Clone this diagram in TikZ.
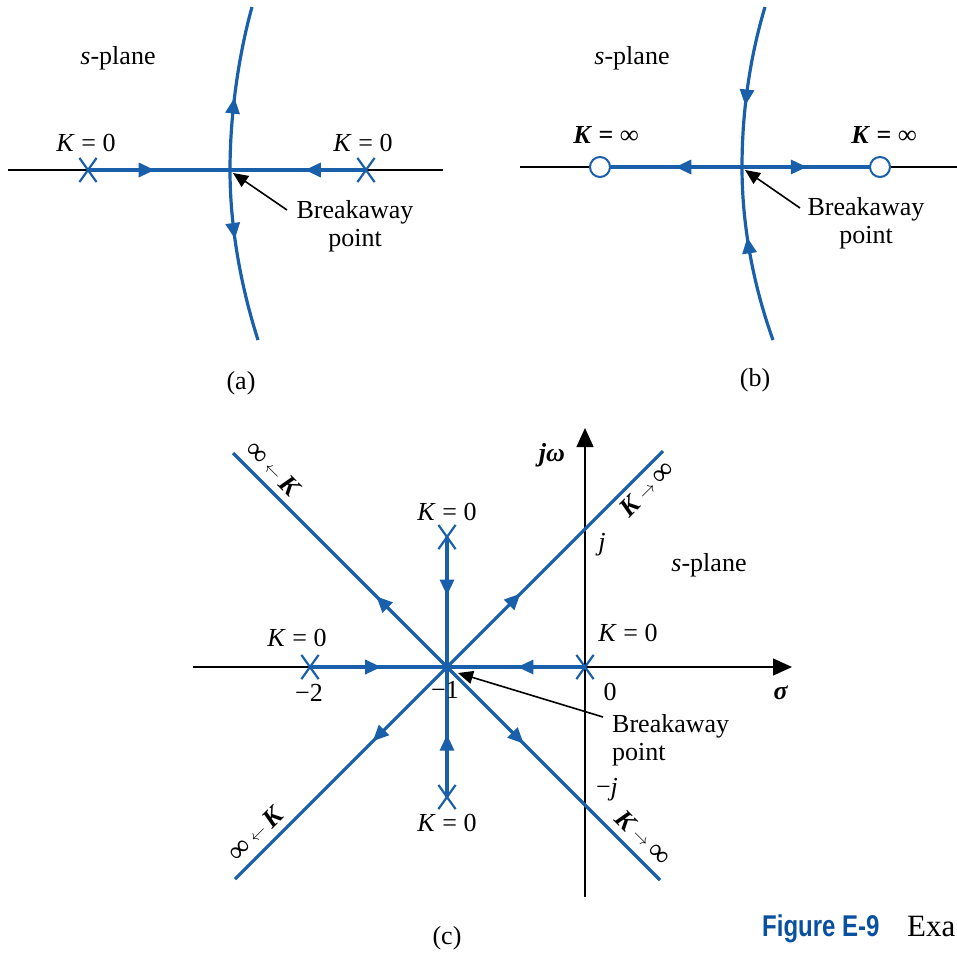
\documentclass[tikz,border=0pt]{standalone}
\usepackage{fontspec}
\setmainfont{Liberation Serif}
\newfontfamily\figsans{Liberation Sans}
\usetikzlibrary{arrows.meta,decorations.markings,shapes.misc}
\definecolor{locus}{RGB}{25,95,170}
\definecolor{figblue}{RGB}{10,80,160}
\tikzset{
  locusline/.style={draw=locus, line width=3.2pt},
  axisline/.style={draw=black, line width=1.3pt},
  bigaxis/.style={draw=black, line width=1.3pt, -{Triangle[length=19pt,width=17pt]}},
  pole/.style={cross out, draw=locus, line width=2.2pt, minimum width=15pt, minimum height=22pt, inner sep=0pt},
  zeromark/.style={circle, draw=locus, fill=white, line width=2pt, minimum size=20pt, inner sep=0pt},
  lbl/.style={font=\fontsize{26}{28}\selectfont, inner sep=0pt},
  captext/.style={font=\fontsize{26}{28}\selectfont, inner sep=0pt},
  midarrow/.style={postaction={decorate}, decoration={markings, mark=at position #1 with {\arrow[locus]{Triangle[length=16pt,width=14pt]}}}},
  ptr/.style={draw=black, line width=1.6pt, -{Triangle[length=15pt,width=13pt]}},
}
\newcommand{\Kinf}{\textbf{\textit{K}}\,{\fontsize{17}{17}\selectfont\raisebox{2pt}{$\rightarrow$}}\,{\fontsize{30}{30}\selectfont ∞}}
\newcommand{\infK}{{\fontsize{30}{30}\selectfont ∞}\,{\fontsize{17}{17}\selectfont\raisebox{2pt}{$\leftarrow$}}\,\textbf{\textit{K}}}
\begin{document}
\begin{tikzpicture}[x=1pt,y=-1pt]
\useasboundingbox (0,0) rectangle (957,954);
% ---------------- panel (a)
\coordinate (axaL) at (8,170);
\coordinate (axaR) at (443,170);
\coordinate (Ba) at (230,170);
\coordinate (Ta) at (252,7);
\coordinate (Ua) at (258,340);
\draw[axisline] (axaL) -- (axaR);
\node[pole] (pa1) at (88,170) {};
\node[pole] (pa2) at (366,170) {};
\draw[locusline, midarrow=0.47] (pa1.center) -- (Ba);
\draw[locusline, midarrow=0.45] (pa2.center) -- (Ba);
\draw[locusline, midarrow=0.44] (Ba) .. controls (230,110) and (240,50) .. (Ta);
\draw[locusline, midarrow=0.40] (Ba) .. controls (230,230) and (242,290) .. (Ua);
\node[lbl] (ka1) at (86,143) {\textit{K} = 0};
\node[lbl] (ka2) at (363,143) {\textit{K} = 0};
\node[lbl] (spa) at (118,58) {\textit{s}-plane};
\node[lbl, align=center] (bka) at (355,226) {Breakaway\\point};
\coordinate (ta) at (287,210);
\coordinate (tipa) at (233,173);
\draw[ptr] (ta) -- (tipa);
\node[captext] (capa) at (241,383) {(a)};
% ---------------- panel (b)
\coordinate (axbL) at (520,167);
\coordinate (axbR) at (957,167);
\coordinate (Bb) at (742,167);
\coordinate (Tb) at (765,7);
\coordinate (Ub) at (773,340);
\draw[axisline] (axbL) -- (axbR);
\draw[locusline, midarrow=0.47] (Bb) -- (600,167);
\draw[locusline, midarrow=0.47] (Bb) -- (880,167);
\node[zeromark] (zb1) at (600,167) {};
\node[zeromark] (zb2) at (880,167) {};
\draw[locusline, midarrow=0.62] (Tb) .. controls (752,50) and (742,105) .. (Bb);
\draw[locusline, midarrow=0.60] (Ub) .. controls (755,290) and (742,230) .. (Bb);
\node[lbl] (kb1) at (606,135) {\textbf{\textit{K} = ∞}};
\node[lbl] (kb2) at (884,135) {\textbf{\textit{K} = ∞}};
\node[lbl] (spb) at (632,58) {\textit{s}-plane};
\node[lbl, align=center] (bkb) at (866,223) {Breakaway\\point};
\coordinate (tb) at (800,208);
\coordinate (tipb) at (745,170);
\draw[ptr] (tb) -- (tipb);
\node[captext] (capb) at (755,380) {(b)};
% ---------------- panel (c)
\coordinate (C) at (447,667);
\coordinate (sigL) at (193,667);
\coordinate (sigR) at (792,667);
\coordinate (jwB) at (585,897);
\coordinate (jwT) at (585,428);
\draw[bigaxis] (sigL) -- (sigR);
\draw[bigaxis] (jwB) -- (jwT);
\coordinate (UL) at (233,453);
\coordinate (UR) at (663,451);
\coordinate (LL) at (235,879);
\coordinate (LR) at (660,880);
\coordinate (p1) at (310,667);
\coordinate (p0) at (585,667);
\coordinate (pu) at (447,537);
\coordinate (pd) at (447,797);
\draw[locusline, midarrow=0.52] (p1) -- (C);
\draw[locusline, midarrow=0.49] (p0) -- (C);
\draw[locusline, midarrow=0.45] (pu) -- (C);
\draw[locusline, midarrow=0.48] (pd) -- (C);
\draw[locusline, midarrow=0.33] (C) -- (UL);
\draw[locusline, midarrow=0.34] (C) -- (UR);
\draw[locusline, midarrow=0.35] (C) -- (LL);
\draw[locusline, midarrow=0.36] (C) -- (LR);
\node[pole] (xp1) at (p1) {};
\node[pole] (xp0) at (p0) {};
\node[pole] (xpu) at (pu) {};
\node[pole] (xpd) at (pd) {};
\node[lbl] (kc1) at (447,512) {\textit{K} = 0};
\node[lbl] (kc2) at (447,823) {\textit{K} = 0};
\node[lbl] (kc3) at (297,638) {\textit{K} = 0};
\node[lbl] (kc4) at (628,633) {\textit{K} = 0};
\node[lbl] (m2) at (309,693) {−2};
\node[lbl] (m1) at (445,690) {−1};
\node[lbl] (n0) at (610,692) {0};
\node[lbl] (sig) at (781,693) {\textbf{\textit{σ}}};
\node[lbl] (jw) at (552,455) {\textbf{\textit{jω}}};
\node[lbl] (jj) at (602,545) {\textit{j}};
\node[lbl] (mj) at (607,790) {−\textit{j}};
\node[lbl] (spc) at (709,565) {\textit{s}-plane};
\node[lbl, align=left, anchor=west] (bkc) at (612,740) {Breakaway\\point};
\coordinate (tc) at (603,717);
\coordinate (tipc) at (458,673);
\draw[ptr] (tc) -- (tipc);
\node[lbl, rotate=-45] (dUL) at (273,469) {\infK};
\node[lbl, rotate=45] (dUR) at (647,489) {\Kinf};
\node[lbl, rotate=45] (dLL) at (256,834) {\infK};
\node[lbl, rotate=-45] (dLR) at (643,838) {\Kinf};
\node[captext] (capc) at (447,938) {(c)};
% ---------------- figure caption fragment
\node[anchor=base west, inner sep=0pt, text=figblue, font=\figsans\bfseries\fontsize{30}{32}\selectfont] (figlab) at (762,936) {\scalebox{0.8}[1]{Figure E-9}};
\node[anchor=base west, inner sep=0pt, font=\fontsize{31}{33}\selectfont] (figtxt) at (907,936) {Exa};
\end{tikzpicture}
\end{document}
